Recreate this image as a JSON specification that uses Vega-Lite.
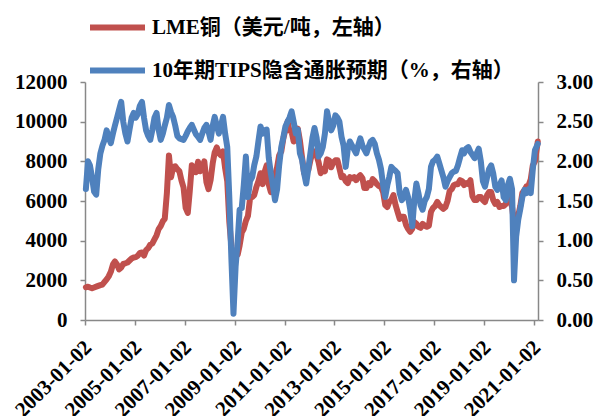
{
"$schema": "https://vega.github.io/schema/vega-lite/v6.json",
"width": 453, "height": 238,
"autosize": {"type": "none"},
"padding": {"left": 85, "top": 82, "right": 57, "bottom": 96},
"background": "white",
"config": {
  "view": {"stroke": null},
  "font": "Liberation Serif, Noto Sans CJK SC",
  "axis": {"domainColor": "#888888", "tickColor": "#888888", "domainWidth": 1.5, "tickWidth": 1.5, "tickSize": 5, "labelFont": "Liberation Serif", "labelFontWeight": "bold", "labelFontSize": 21, "labelColor": "#000000", "grid": false, "title": null}
},
"data": {"values": [
{"d":"2003-01-15","cu":1650,"t":1.65},{"d":"2003-02-15","cu":1680,"t":2.00},{"d":"2003-03-15","cu":1640,"t":1.95},{"d":"2003-04-15","cu":1600,"t":1.80},{"d":"2003-05-15","cu":1640,"t":1.62},{"d":"2003-06-15","cu":1680,"t":1.58},{"d":"2003-07-15","cu":1720,"t":1.90},{"d":"2003-08-15","cu":1760,"t":2.10},{"d":"2003-09-15","cu":1790,"t":2.20},{"d":"2003-10-15","cu":1920,"t":2.27},{"d":"2003-11-15","cu":2050,"t":2.39},{"d":"2003-12-15","cu":2200,"t":2.30},
{"d":"2004-01-15","cu":2430,"t":2.23},{"d":"2004-02-15","cu":2800,"t":2.35},{"d":"2004-03-15","cu":2950,"t":2.45},{"d":"2004-04-15","cu":2800,"t":2.55},{"d":"2004-05-15","cu":2550,"t":2.65},{"d":"2004-06-15","cu":2650,"t":2.75},{"d":"2004-07-15","cu":2830,"t":2.50},{"d":"2004-08-15","cu":2860,"t":2.35},{"d":"2004-09-15","cu":2900,"t":2.25},{"d":"2004-10-15","cu":3000,"t":2.40},{"d":"2004-11-15","cu":3100,"t":2.55},{"d":"2004-12-15","cu":3150,"t":2.61},
{"d":"2005-01-15","cu":3170,"t":2.55},{"d":"2005-02-15","cu":3250,"t":2.60},{"d":"2005-03-15","cu":3380,"t":2.70},{"d":"2005-04-15","cu":3400,"t":2.75},{"d":"2005-05-15","cu":3250,"t":2.55},{"d":"2005-06-15","cu":3520,"t":2.39},{"d":"2005-07-15","cu":3620,"t":2.32},{"d":"2005-08-15","cu":3800,"t":2.27},{"d":"2005-09-15","cu":3860,"t":2.40},{"d":"2005-10-15","cu":4060,"t":2.55},{"d":"2005-11-15","cu":4270,"t":2.61},{"d":"2005-12-15","cu":4580,"t":2.40},
{"d":"2006-01-15","cu":4740,"t":2.27},{"d":"2006-02-15","cu":4980,"t":2.35},{"d":"2006-03-15","cu":5100,"t":2.45},{"d":"2006-04-15","cu":6400,"t":2.55},{"d":"2006-05-15","cu":8300,"t":2.71},{"d":"2006-06-15","cu":7200,"t":2.62},{"d":"2006-07-15","cu":7700,"t":2.56},{"d":"2006-08-15","cu":7750,"t":2.45},{"d":"2006-09-15","cu":7600,"t":2.32},{"d":"2006-10-15","cu":7500,"t":2.29},{"d":"2006-11-15","cu":7030,"t":2.28},{"d":"2006-12-15","cu":6680,"t":2.27},
{"d":"2007-01-15","cu":5650,"t":2.32},{"d":"2007-02-15","cu":5400,"t":2.38},{"d":"2007-03-15","cu":6450,"t":2.42},{"d":"2007-04-15","cu":7800,"t":2.46},{"d":"2007-05-15","cu":7700,"t":2.40},{"d":"2007-06-15","cu":7450,"t":2.34},{"d":"2007-07-15","cu":7980,"t":2.31},{"d":"2007-08-15","cu":7500,"t":2.27},{"d":"2007-09-15","cu":7650,"t":2.35},{"d":"2007-10-15","cu":8000,"t":2.42},{"d":"2007-11-15","cu":6950,"t":2.46},{"d":"2007-12-15","cu":6600,"t":2.38},
{"d":"2008-01-15","cu":7050,"t":2.27},{"d":"2008-02-15","cu":7900,"t":2.45},{"d":"2008-03-15","cu":8450,"t":2.56},{"d":"2008-04-15","cu":8700,"t":2.45},{"d":"2008-05-15","cu":8400,"t":2.35},{"d":"2008-06-15","cu":8300,"t":2.45},{"d":"2008-07-15","cu":8500,"t":2.56},{"d":"2008-08-15","cu":7650,"t":2.35},{"d":"2008-09-15","cu":7000,"t":2.18},{"d":"2008-10-15","cu":4950,"t":1.55},{"d":"2008-11-15","cu":3700,"t":0.76},{"d":"2008-12-15","cu":3000,"t":0.08},
{"d":"2009-01-15","cu":3200,"t":0.67},{"d":"2009-02-15","cu":3300,"t":1.00},{"d":"2009-03-15","cu":3750,"t":1.39},{"d":"2009-04-15","cu":4400,"t":1.41},{"d":"2009-05-15","cu":4600,"t":1.70},{"d":"2009-06-15","cu":5000,"t":2.06},{"d":"2009-07-15","cu":5250,"t":1.55},{"d":"2009-08-15","cu":6150,"t":1.75},{"d":"2009-09-15","cu":6200,"t":1.80},{"d":"2009-10-15","cu":6300,"t":1.95},{"d":"2009-11-15","cu":6700,"t":2.06},{"d":"2009-12-15","cu":7000,"t":2.25},
{"d":"2010-01-15","cu":7400,"t":2.44},{"d":"2010-02-15","cu":6850,"t":2.35},{"d":"2010-03-15","cu":7450,"t":2.39},{"d":"2010-04-15","cu":7800,"t":2.40},{"d":"2010-05-15","cu":6850,"t":2.05},{"d":"2010-06-15","cu":6450,"t":1.85},{"d":"2010-07-15","cu":6750,"t":1.70},{"d":"2010-08-15","cu":7300,"t":1.51},{"d":"2010-09-15","cu":7700,"t":1.65},{"d":"2010-10-15","cu":8300,"t":1.95},{"d":"2010-11-15","cu":8500,"t":2.18},{"d":"2010-12-15","cu":9150,"t":2.30},
{"d":"2011-01-15","cu":9600,"t":2.44},{"d":"2011-02-15","cu":10000,"t":2.50},{"d":"2011-03-15","cu":9550,"t":2.55},{"d":"2011-04-15","cu":9500,"t":2.63},{"d":"2011-05-15","cu":9000,"t":2.50},{"d":"2011-06-15","cu":9100,"t":2.35},{"d":"2011-07-15","cu":9650,"t":2.40},{"d":"2011-08-15","cu":9050,"t":2.10},{"d":"2011-09-15","cu":8200,"t":2.02},{"d":"2011-10-15","cu":7400,"t":1.85},{"d":"2011-11-15","cu":7600,"t":1.72},{"d":"2011-12-15","cu":7550,"t":1.90},
{"d":"2012-01-15","cu":8050,"t":2.10},{"d":"2012-02-15","cu":8450,"t":2.30},{"d":"2012-03-15","cu":8500,"t":2.42},{"d":"2012-04-15","cu":8300,"t":2.30},{"d":"2012-05-15","cu":7950,"t":2.06},{"d":"2012-06-15","cu":7400,"t":2.10},{"d":"2012-07-15","cu":7600,"t":2.18},{"d":"2012-08-15","cu":7500,"t":2.35},{"d":"2012-09-15","cu":8100,"t":2.63},{"d":"2012-10-15","cu":8050,"t":2.50},{"d":"2012-11-15","cu":7700,"t":2.39},{"d":"2012-12-15","cu":7950,"t":2.45},
{"d":"2013-01-15","cu":8050,"t":2.58},{"d":"2013-02-15","cu":8050,"t":2.55},{"d":"2013-03-15","cu":7650,"t":2.50},{"d":"2013-04-15","cu":7200,"t":2.31},{"d":"2013-05-15","cu":7250,"t":2.20},{"d":"2013-06-15","cu":7000,"t":1.93},{"d":"2013-07-15","cu":6900,"t":2.15},{"d":"2013-08-15","cu":7200,"t":2.25},{"d":"2013-09-15","cu":7150,"t":2.20},{"d":"2013-10-15","cu":7200,"t":2.15},{"d":"2013-11-15","cu":7050,"t":2.10},{"d":"2013-12-15","cu":7200,"t":2.20},
{"d":"2014-01-15","cu":7300,"t":2.29},{"d":"2014-02-15","cu":7150,"t":2.20},{"d":"2014-03-15","cu":6650,"t":2.15},{"d":"2014-04-15","cu":6650,"t":2.10},{"d":"2014-05-15","cu":6900,"t":2.18},{"d":"2014-06-15","cu":6800,"t":2.25},{"d":"2014-07-15","cu":7100,"t":2.27},{"d":"2014-08-15","cu":7000,"t":2.22},{"d":"2014-09-15","cu":6850,"t":2.10},{"d":"2014-10-15","cu":6750,"t":2.02},{"d":"2014-11-15","cu":6700,"t":1.90},{"d":"2014-12-15","cu":6450,"t":1.70},
{"d":"2015-01-15","cu":5800,"t":1.55},{"d":"2015-02-15","cu":5700,"t":1.70},{"d":"2015-03-15","cu":5950,"t":1.80},{"d":"2015-04-15","cu":6050,"t":1.93},{"d":"2015-05-15","cu":6300,"t":1.90},{"d":"2015-06-15","cu":5800,"t":1.88},{"d":"2015-07-15","cu":5450,"t":1.85},{"d":"2015-08-15","cu":5100,"t":1.60},{"d":"2015-09-15","cu":5200,"t":1.51},{"d":"2015-10-15","cu":5200,"t":1.55},{"d":"2015-11-15","cu":4800,"t":1.64},{"d":"2015-12-15","cu":4600,"t":1.55},
{"d":"2016-01-15","cu":4450,"t":1.40},{"d":"2016-02-15","cu":4600,"t":1.18},{"d":"2016-03-15","cu":4950,"t":1.50},{"d":"2016-04-15","cu":4850,"t":1.72},{"d":"2016-05-15","cu":4700,"t":1.60},{"d":"2016-06-15","cu":4650,"t":1.45},{"d":"2016-07-15","cu":4850,"t":1.39},{"d":"2016-08-15","cu":4750,"t":1.50},{"d":"2016-09-15","cu":4700,"t":1.55},{"d":"2016-10-15","cu":4750,"t":1.65},{"d":"2016-11-15","cu":5450,"t":1.93},{"d":"2016-12-15","cu":5650,"t":2.00},
{"d":"2017-01-15","cu":5750,"t":2.02},{"d":"2017-02-15","cu":5950,"t":2.06},{"d":"2017-03-15","cu":5800,"t":1.98},{"d":"2017-04-15","cu":5700,"t":1.89},{"d":"2017-05-15","cu":5600,"t":1.80},{"d":"2017-06-15","cu":5700,"t":1.68},{"d":"2017-07-15","cu":6000,"t":1.75},{"d":"2017-08-15","cu":6500,"t":1.80},{"d":"2017-09-15","cu":6600,"t":1.85},{"d":"2017-10-15","cu":6800,"t":1.87},{"d":"2017-11-15","cu":6850,"t":1.88},{"d":"2017-12-15","cu":6850,"t":1.95},
{"d":"2018-01-15","cu":7050,"t":2.05},{"d":"2018-02-15","cu":7000,"t":2.14},{"d":"2018-03-15","cu":6800,"t":2.10},{"d":"2018-04-15","cu":6900,"t":2.16},{"d":"2018-05-15","cu":6850,"t":2.18},{"d":"2018-06-15","cu":7050,"t":2.12},{"d":"2018-07-15","cu":6250,"t":2.08},{"d":"2018-08-15","cu":6050,"t":2.04},{"d":"2018-09-15","cu":6050,"t":2.10},{"d":"2018-10-15","cu":6200,"t":2.16},{"d":"2018-11-15","cu":6200,"t":2.00},{"d":"2018-12-15","cu":6050,"t":1.75},
{"d":"2019-01-15","cu":5950,"t":1.68},{"d":"2019-02-15","cu":6300,"t":1.80},{"d":"2019-03-15","cu":6450,"t":1.90},{"d":"2019-04-15","cu":6450,"t":1.95},{"d":"2019-05-15","cu":6050,"t":1.85},{"d":"2019-06-15","cu":5850,"t":1.68},{"d":"2019-07-15","cu":5950,"t":1.64},{"d":"2019-08-15","cu":5700,"t":1.70},{"d":"2019-09-15","cu":5750,"t":1.76},{"d":"2019-10-15","cu":5750,"t":1.55},{"d":"2019-11-15","cu":5850,"t":1.51},{"d":"2019-12-15","cu":6100,"t":1.70},
{"d":"2020-01-15","cu":6050,"t":1.78},{"d":"2020-02-15","cu":5700,"t":1.65},{"d":"2020-03-15","cu":4900,"t":0.50},{"d":"2020-04-15","cu":5050,"t":1.05},{"d":"2020-05-15","cu":5250,"t":1.26},{"d":"2020-06-15","cu":5750,"t":1.40},{"d":"2020-07-15","cu":6400,"t":1.55},{"d":"2020-08-15","cu":6550,"t":1.64},{"d":"2020-09-15","cu":6750,"t":1.60},{"d":"2020-10-15","cu":6800,"t":1.65},{"d":"2020-11-15","cu":7100,"t":1.60},{"d":"2020-12-15","cu":7800,"t":1.90},
{"d":"2021-01-15","cu":8000,"t":2.14},{"d":"2021-02-26","cu":9000,"t":2.22}
]},
"layer": [
  {
    "mark": {"type": "line", "strokeWidth": 6, "strokeJoin": "round", "strokeCap": "round"},
    "encoding": {
      "x": {"field": "d", "type": "temporal",
        "scale": {"type": "utc", "domain": [{"year": 2003, "month": 1, "date": 2, "utc": true}, {"year": 2021, "month": 3, "date": 1, "utc": true}]},
        "axis": {"values": [
          {"year": 2003, "month": 1, "date": 2, "utc": true}, {"year": 2005, "month": 1, "date": 2, "utc": true},
          {"year": 2007, "month": 1, "date": 2, "utc": true}, {"year": 2009, "month": 1, "date": 2, "utc": true},
          {"year": 2011, "month": 1, "date": 2, "utc": true}, {"year": 2013, "month": 1, "date": 2, "utc": true},
          {"year": 2015, "month": 1, "date": 2, "utc": true}, {"year": 2017, "month": 1, "date": 2, "utc": true},
          {"year": 2019, "month": 1, "date": 2, "utc": true}, {"year": 2021, "month": 1, "date": 2, "utc": true}],
          "labelExpr": "utcFormat(datum.value, '%Y-%m-%d')", "labelAngle": -45, "labelAlign": "right", "labelBaseline": "middle", "labelPadding": 19, "labelOffset": 3, "labelOverlap": false, "labelFlush": false, "labelBound": false}},
      "y": {"field": "cu", "type": "quantitative", "scale": {"domain": [0, 12000], "nice": false},
        "axis": {"values": [0, 2000, 4000, 6000, 8000, 10000, 12000], "format": "d", "labelPadding": 13}},
      "color": {"datum": "LME铜（美元/吨，左轴）", "type": "nominal",
        "scale": {"domain": ["LME铜（美元/吨，左轴）", "10年期TIPS隐含通胀预期（%，右轴）"], "range": ["#C0504D", "#4F81BD"]},
        "legend": {"orient": "none", "legendX": 2, "legendY": -85, "direction": "vertical", "title": null,
          "symbolType": "stroke", "symbolSize": 3025, "symbolStrokeWidth": 6,
          "labelFont": "Liberation Serif, Noto Sans CJK SC", "labelFontWeight": "bold", "labelFontSize": 21, "labelColor": "#000000",
          "rowPadding": -10, "labelOffset": 4, "padding": 0, "labelLimit": 600}}
    }
  },
  {
    "mark": {"type": "line", "strokeWidth": 6, "strokeJoin": "round", "strokeCap": "round"},
    "encoding": {
      "x": {"field": "d", "type": "temporal"},
      "y": {"field": "t", "type": "quantitative", "scale": {"domain": [0, 3], "nice": false},
        "axis": {"orient": "right", "values": [0, 0.5, 1, 1.5, 2, 2.5, 3], "format": ".2f", "labelPadding": 13}},
      "color": {"datum": "10年期TIPS隐含通胀预期（%，右轴）", "type": "nominal"}
    }
  }
],
"resolve": {"scale": {"y": "independent"}}
}
